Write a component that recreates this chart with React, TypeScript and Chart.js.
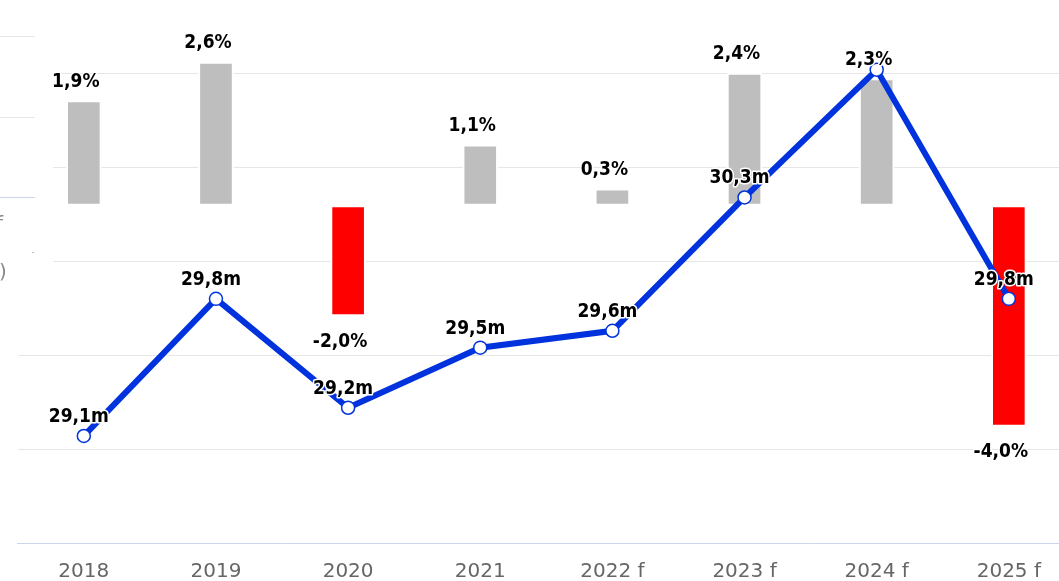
import { useEffect, useRef } from 'react';
import { Chart, registerables } from 'chart.js';

Chart.register(...registerables);

// ---- data ----
const categories = ['2018', '2019', '2020', '2021', '2022 f', '2023 f', '2024 f', '2025 f'];
const growthPct = [1.9, 2.6, -2.0, 1.1, 0.3, 2.4, 2.3, -4.0];
const volumeM = [29.07, 29.8, 29.22, 29.54, 29.63, 30.34, 31.02, 29.8];
const volumeLabelShown = [true, true, true, true, true, true, false, true];
const volumeGridTicks = [29.0, 29.5, 30.0, 30.5, 31.0];

const LABEL_FONT = 'bold 19px "DejaVu Sans Condensed", "DejaVu Sans", sans-serif';
const fmt = (v: number) => v.toFixed(1).replace('.', ',');

const labelsPlugin = {
  id: 'valueLabels',
  beforeDatasetsDraw(chart: any) {
    // white panel overlapping the upper-left part of the grid
    const { ctx, chartArea } = chart;
    const yScale = chart.scales.y2;
    ctx.save();
    ctx.fillStyle = '#ffffff';
    ctx.fillRect(chartArea.left - 1, 0, 53 - chartArea.left + 1, yScale.getPixelForValue(29.75));
    ctx.restore();
  },
  afterDatasetsDraw(chart: any) {
    const { ctx } = chart;
    const drawText = (t: string, x: number, y: number) => {
      ctx.font = LABEL_FONT;
      ctx.textAlign = 'center';
      ctx.textBaseline = 'alphabetic';
      ctx.lineJoin = 'round';
      ctx.strokeStyle = '#ffffff';
      ctx.lineWidth = 3;
      ctx.strokeText(t, x, y);
      ctx.fillStyle = '#000000';
      ctx.fillText(t, x, y);
    };
    ctx.save();
    const barMeta = chart.getDatasetMeta(0);
    barMeta.data.forEach((el: any, i: number) => {
      const v = growthPct[i];
      const t = fmt(v) + '%';
      if (v >= 0) drawText(t, el.x - 8, el.y - 14);
      else drawText(t, el.x - 8, el.y + 31);
    });
    const lineMeta = chart.getDatasetMeta(1);
    lineMeta.data.forEach((el: any, i: number) => {
      if (!volumeLabelShown[i]) return;
      drawText(fmt(volumeM[i]) + 'm', el.x - 5, el.y - 14);
    });
    ctx.restore();
  },
};

export default function App() {
  const ref = useRef<HTMLCanvasElement>(null);
  useEffect(() => {
    const chart = new Chart(ref.current as HTMLCanvasElement, {
      type: 'bar',
      data: {
        labels: categories,
        datasets: [
          {
            type: 'bar',
            data: growthPct,
            yAxisID: 'y',
            backgroundColor: growthPct.map((v) => (v >= 0 ? '#bebebe' : '#ff0000')),
            borderColor: '#ffffff',
            borderWidth: 2,
            borderSkipped: false,
            barThickness: 35,
            order: 2,
            clip: false as any,
          } as any,
          {
            type: 'line',
            data: volumeM,
            yAxisID: 'y2',
            borderColor: '#0033dd',
            borderWidth: 6,
            tension: 0,
            pointRadius: 6.5,
            pointBorderWidth: 1.5,
            pointBackgroundColor: '#ffffff',
            pointBorderColor: '#0033dd',
            order: 1,
            clip: false as any,
          } as any,
        ],
      },
      options: {
        animation: false,
        responsive: false,
        maintainAspectRatio: false,
        events: [],
        layout: { padding: { left: 17.75, right: 18.1, top: 73.5, bottom: 9 } },
        plugins: { legend: { display: false }, tooltip: { enabled: false } },
        scales: {
          x: {
            grid: { display: false, drawTicks: false },
            border: { display: true, color: '#ccd6eb', width: 1 },
            ticks: {
              padding: 17,
              color: '#666666',
              font: { family: '"DejaVu Sans", sans-serif', size: 20 },
              maxRotation: 0,
              autoSkip: false,
            },
          },
          y: {
            display: false,
            min: -6.114,
            max: 2.391,
          },
          y2: {
            position: 'left',
            min: 28.5,
            max: 31.0,
            afterBuildTicks: (axis: any) => {
              axis.ticks = volumeGridTicks.map((v) => ({ value: v }));
            },
            grid: { color: '#e6e6e6', lineWidth: 1, drawTicks: false },
            border: { display: false },
            ticks: { display: false },
          },
        },
      },
      plugins: [labelsPlugin],
    });
    return () => chart.destroy();
  }, []);

  const line = (top: number, color: string) => (
    <div style={{ position: 'absolute', left: 0, top, width: 35, height: 1, background: color }} />
  );

  return (
    <div
      style={{
        position: 'fixed',
        left: 0,
        top: 0,
        width: 1059,
        height: 581,
        overflow: 'hidden',
        background: '#ffffff',
      }}
    >
      <canvas
        ref={ref}
        width={1093}
        height={610}
        style={{ position: 'absolute', left: 0, top: 0, width: 1093, height: 610 }}
      />
      {line(36, '#e6e6e6')}
      {line(117, '#e6e6e6')}
      {line(197, '#ccd6eb')}
      <div style={{ position: 'absolute', left: 32, top: 252, width: 2, height: 1, background: '#bbbbbb' }} />
      <span
        style={{
          position: 'absolute',
          left: -4,
          top: 213,
          font: '20px "DejaVu Sans", sans-serif',
          lineHeight: '20px',
          color: '#888888',
        }}
      >
        f
      </span>
      <span
        style={{
          position: 'absolute',
          left: -1,
          top: 261,
          font: '20px "DejaVu Sans", sans-serif',
          lineHeight: '20px',
          color: '#888888',
        }}
      >
        )
      </span>
    </div>
  );
}
